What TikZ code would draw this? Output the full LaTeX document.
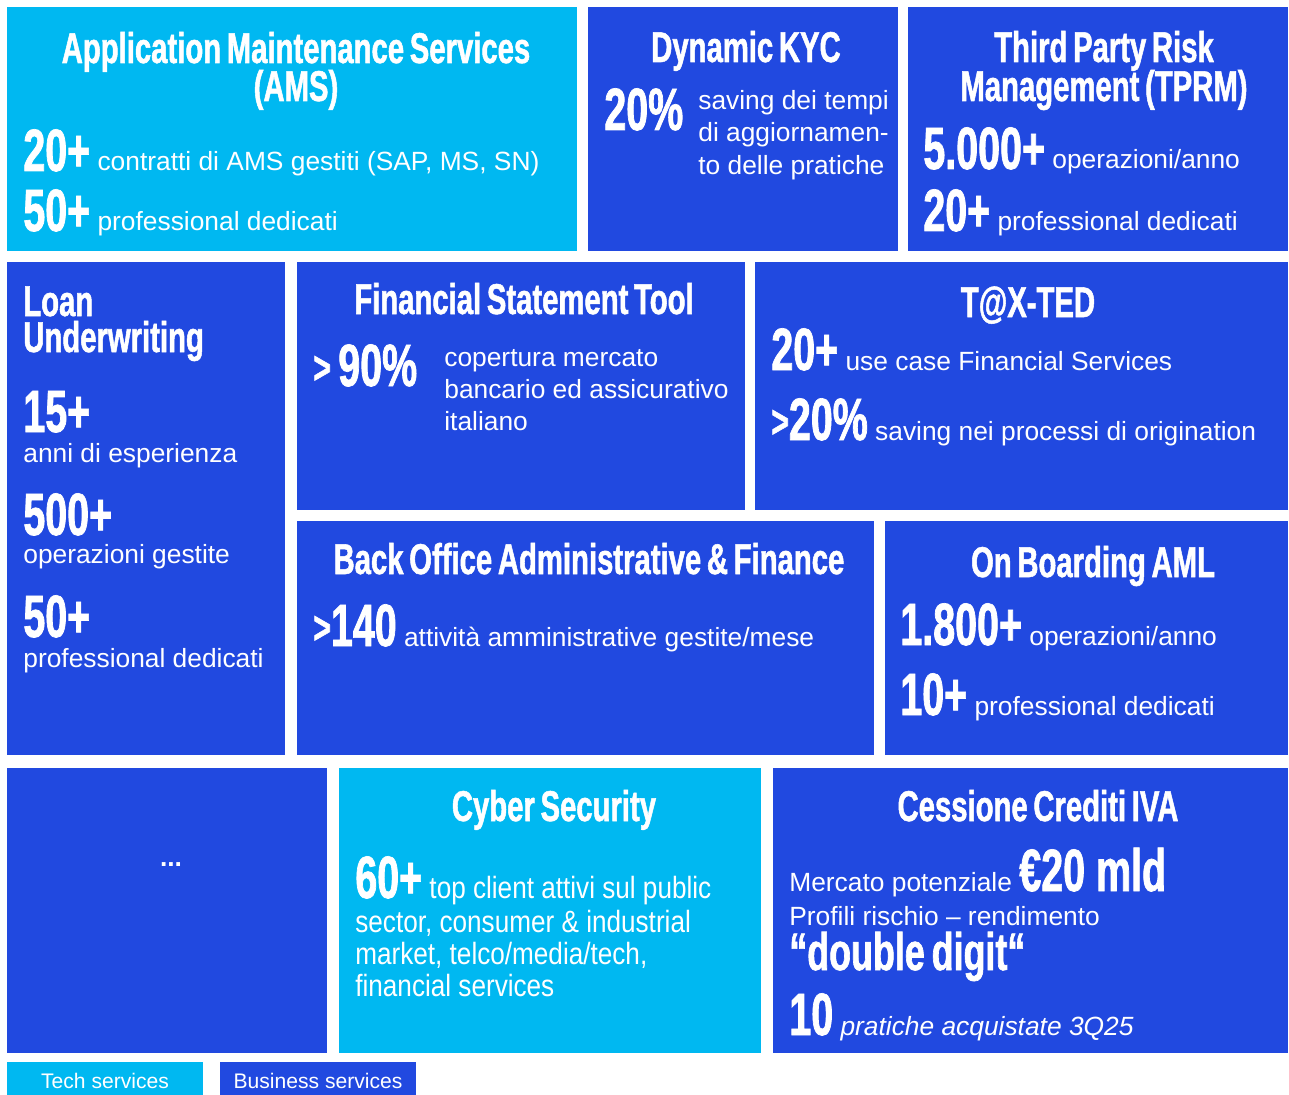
\documentclass[tikz,border=0pt]{standalone}
\usepackage{fontspec}
\setmainfont{Liberation Sans}
\newfontfamily\headfamily[FakeStretch=0.68, WordSpace=0.7, BoldFeatures={FakeBold=1.2}]{Liberation Sans}
\newfontfamily\numfamily[FakeStretch=0.66, BoldFeatures={FakeBold=1.2}]{Liberation Sans}
\newfontfamily\narrowfamily[FakeStretch=0.85]{Liberation Sans}

\definecolor{Tech}{HTML}{00B8F1}
\definecolor{Business}{HTML}{2149E0}

\newcommand{\bignum}[1]{{\numfamily\bfseries\fontsize{34}{34}\selectfont #1}}
\newcommand{\gtsign}{{\numfamily\bfseries\fontsize{26}{26}\selectfont\raisebox{1.5pt}{>}}}

\tikzset{
  head/.style={text=white, inner sep=0pt, font=\headfamily\bfseries\fontsize{24.5}{28}\selectfont},
  txt/.style={text=white, inner sep=0pt, font=\fontsize{15}{18}\selectfont},
  cyb/.style={text=white, inner sep=0pt, font=\narrowfamily\fontsize{17.5}{20}\selectfont},
  leg/.style={text=white, inner sep=0pt, font=\fontsize{12}{14}\selectfont}
}

\begin{document}
\begin{tikzpicture}[x=0.02cm, y=-0.02cm]

  \useasboundingbox (0,0) rectangle (1289,1095);

  %%%%%%%%%%%%%%%% TILES %%%%%%%%%%%%%%%%%%%%%%
  \coordinate (ams1) at (7,7);     \coordinate (ams2) at (577,251);
  \coordinate (kyc1) at (588,7);   \coordinate (kyc2) at (898,251);
  \coordinate (tprm1) at (908,7);  \coordinate (tprm2) at (1288,251);
  \coordinate (loan1) at (7,262);  \coordinate (loan2) at (285,755);
  \coordinate (fst1) at (297,262); \coordinate (fst2) at (745,510);
  \coordinate (tax1) at (755,262); \coordinate (tax2) at (1288,510);
  \coordinate (bo1) at (297,521);  \coordinate (bo2) at (874,755);
  \coordinate (aml1) at (885,521); \coordinate (aml2) at (1288,755);
  \coordinate (dots1) at (7,768);  \coordinate (dots2) at (327,1053);
  \coordinate (cyb1) at (339,768); \coordinate (cyb2) at (761,1053);
  \coordinate (iva1) at (773,768); \coordinate (iva2) at (1288,1053);

  \fill[Tech] (ams1) rectangle (ams2);
  \fill[Business] (kyc1) rectangle (kyc2);
  \fill[Business] (tprm1) rectangle (tprm2);
  \fill[Business] (loan1) rectangle (loan2);
  \fill[Business] (fst1) rectangle (fst2);
  \fill[Business] (tax1) rectangle (tax2);
  \fill[Business] (bo1) rectangle (bo2);
  \fill[Business] (aml1) rectangle (aml2);
  \fill[Business] (dots1) rectangle (dots2);
  \fill[Tech] (cyb1) rectangle (cyb2);
  \fill[Business] (iva1) rectangle (iva2);

  % Application Maintenance Services
  \node[head, anchor=base] (amsT1) at (296,63) {Application Maintenance Services};
  \node[head, anchor=base] (amsT2) at (296,101) {(AMS)};
  \node[txt, anchor=base west] (amsL1) at (23,171) {\bignum{20+} contratti di AMS gestiti (SAP, MS, SN)};
  \node[txt, anchor=base west] (amsL2) at (23,231) {\bignum{50+} professional dedicati};

  % Dynamic KYC
  \node[head, anchor=base] (kycT) at (746,62) {Dynamic KYC};
  \node[txt, anchor=base west] (kycN) at (604,130) {\bignum{20\%}};
  \node[txt, anchor=base west] (kycL1) at (698,110) {saving dei tempi};
  \node[txt, anchor=base west] (kycL2) at (698,142) {di aggiornamen-};
  \node[txt, anchor=base west] (kycL3) at (698,174) {to delle pratiche};

  % Third Party Risk Management
  \node[head, anchor=base] (tprmT1) at (1104,62) {Third Party Risk};
  \node[head, anchor=base] (tprmT2) at (1104,101) {Management (TPRM)};
  \node[txt, anchor=base west] (tprmL1) at (923,169) {\bignum{5.000+} operazioni/anno};
  \node[txt, anchor=base west] (tprmL2) at (923,231) {\bignum{20+} professional dedicati};

  % Loan Underwriting
  \node[head, anchor=base west] (loanT1) at (23,316) {Loan};
  \node[head, anchor=base west] (loanT2) at (23,352) {Underwriting};
  \node[txt, anchor=base west] (loanN1) at (23,432) {\bignum{15+}};
  \node[txt, anchor=base west] (loanL1) at (23,462) {anni di esperienza};
  \node[txt, anchor=base west] (loanN2) at (23,535) {\bignum{500+}};
  \node[txt, anchor=base west] (loanL2) at (23,563) {operazioni gestite};
  \node[txt, anchor=base west] (loanN3) at (23,637) {\bignum{50+}};
  \node[txt, anchor=base west] (loanL3) at (23,667) {professional dedicati};

  % Financial Statement Tool
  \node[head, anchor=base] (fstT) at (524,314) {Financial Statement Tool};
  \node[txt, anchor=base west] (fstN) at (313,386) {\gtsign\ \bignum{90\%}};
  \node[txt, anchor=base west] (fstL1) at (444,366) {copertura mercato};
  \node[txt, anchor=base west] (fstL2) at (444,398) {bancario ed assicurativo};
  \node[txt, anchor=base west] (fstL3) at (444,430) {italiano};

  % T@X-TED
  \node[head, anchor=base] (taxT) at (1028,317) {T@X-TED};
  \node[txt, anchor=base west] (taxL1) at (771,370) {\bignum{20+} use case Financial Services};
  \node[txt, anchor=base west] (taxL2) at (771,440) {\gtsign\bignum{20\%} saving nei processi di origination};

  % Back Office
  \node[head, anchor=base] (boT) at (589,574) {Back Office Administrative \& Finance};
  \node[txt, anchor=base west] (boL1) at (313,646) {\gtsign\bignum{140} attività amministrative gestite/mese};

  % On Boarding AML
  \node[head, anchor=base] (amlT) at (1093,577) {On Boarding AML};
  \node[txt, anchor=base west] (amlL1) at (900,645) {\bignum{1.800+} operazioni/anno};
  \node[txt, anchor=base west] (amlL2) at (900,715) {\bignum{10+} professional dedicati};

  % Others
  \node[txt, anchor=base] (dotsT) at (171,866) {\bfseries ...};

  % Cyber Security
  \node[head, anchor=base] (cybT) at (554,821) {Cyber Security};
  \node[cyb, anchor=base west] (cybL1) at (355,898) {\bignum{60+} top client attivi sul public};
  \node[cyb, anchor=base west] (cybL2) at (355,932) {sector, consumer \& industrial};
  \node[cyb, anchor=base west] (cybL3) at (355,964) {market, telco/media/tech,};
  \node[cyb, anchor=base west] (cybL4) at (355,996) {financial services};

  % Cessione Crediti IVA
  \node[head, anchor=base] (ivaT) at (1038,821) {Cessione Crediti IVA};
  \node[txt, anchor=base west] (ivaL1) at (789,891) {Mercato potenziale \bignum{€20 mld}};
  \node[txt, anchor=base west] (ivaL2) at (789,925) {Profili rischio – rendimento};
  \node[txt, anchor=base west] (ivaL3) at (789,970) {{\headfamily\bfseries\fontsize{30}{30}\selectfont “double digit“}};
  \node[txt, anchor=base west] (ivaL4) at (789,1035) {\bignum{10} \itshape pratiche acquistate 3Q25};

  %%%%%%%%%%%%%% LEGEND %%%%%%%%%%%%%%
  \coordinate (tech1) at (7,1062);   \coordinate (tech2) at (203,1095);
  \coordinate (bus1) at (220,1062);  \coordinate (bus2) at (416,1095);
  \fill[Tech] (tech1) rectangle (tech2);
  \fill[Business] (bus1) rectangle (bus2);
  \node[leg, anchor=base] (techL) at (105,1088) {Tech services};
  \node[leg, anchor=base] (busL) at (318,1088) {Business services};

\end{tikzpicture}
\end{document}
